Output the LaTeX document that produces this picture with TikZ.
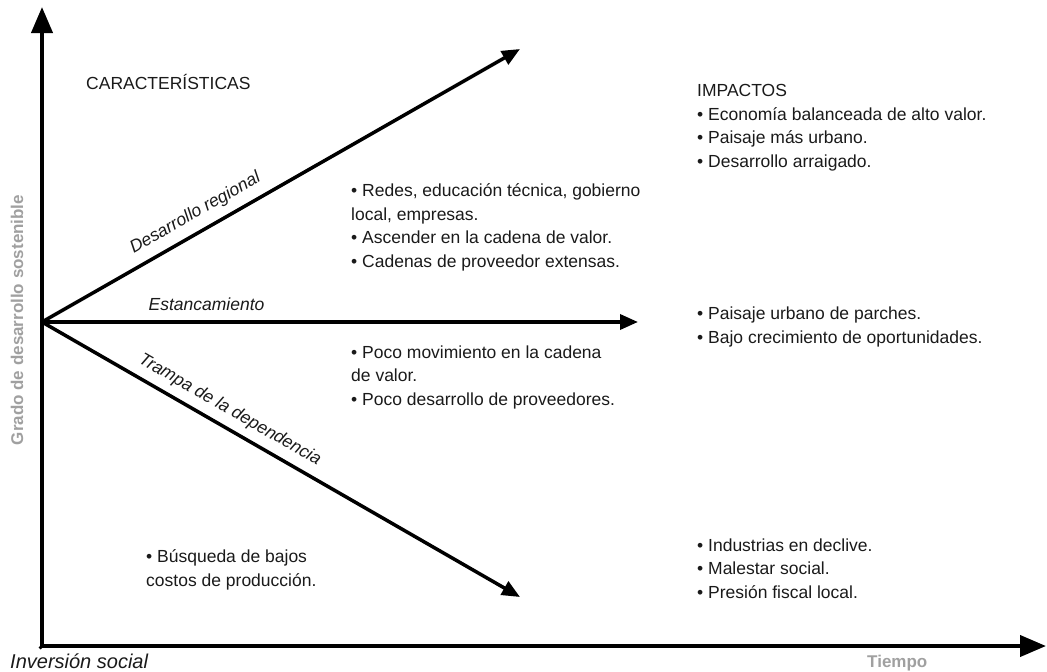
\documentclass[tikz,border=0pt]{standalone}
\usepackage{fontspec}
\setmainfont{Liberation Sans}
\usetikzlibrary{arrows.meta}
\definecolor{labelgray}{HTML}{A0A0A0}
\definecolor{ink}{HTML}{1A1A1A}
\tikzset{
  txt/.style={anchor=base west, inner sep=0pt, align=left, text=ink,
    font=\fontsize{17.5}{23.5}\selectfont},
  axis/.style={line width=4pt, -{Triangle[length=26pt,width=21pt]}},
  ray/.style={line width=3.5pt, -{Triangle[length=18pt,width=15pt]}},
  raylabel/.style={font=\itshape\fontsize{17.5}{20}\selectfont, text=ink},
  axlabel/.style={font=\bfseries\fontsize{17}{18}\selectfont, text=labelgray}
}
\begin{document}
\begin{tikzpicture}[x=1pt,y=-1pt]
  \useasboundingbox (0,0) rectangle (1047,672);
  % axes
  \coordinate (o) at (42,322);
  \coordinate (ytop) at (42,7);
  \coordinate (ybot) at (42,648);
  \coordinate (xend) at (1046,646);
  \draw[axis] (ybot) -- (ytop);
  \draw[line width=4pt] (40,646) -- (ybot);
  \draw[axis] (40,646) -- (xend);
  % paths
  \coordinate (up) at (520,49);
  \coordinate (flat) at (638,322);
  \coordinate (down) at (520,597);
  \draw[ray] (o) -- (up)
    node[raylabel, pos=0.34, sloped, above=5pt] (reg) {Desarrollo regional};
  \draw[ray] (o) -- (flat)
    node[raylabel, pos=0.276, above=6pt] (est) {Estancamiento};
  \draw[ray] (o) -- (down)
    node[raylabel, pos=0.375, sloped, above=4pt] (dep) {Trampa de la dependencia};
  % texts (base = last line)
  \node[txt] (car) at (86,89) {CARACTERÍSTICAS};
  \node[txt] (imp) at (697,167) {IMPACTOS\\
    • Economía balanceada de alto valor.\\
    • Paisaje más urbano.\\
    • Desarrollo arraigado.};
  \node[txt] (regc) at (351,267) {• Redes, educación técnica, gobierno\\
    local, empresas.\\
    • Ascender en la cadena de valor.\\
    • Cadenas de proveedor extensas.};
  \node[txt] (esti) at (697,343) {• Paisaje urbano de parches.\\
    • Bajo crecimiento de oportunidades.};
  \node[txt] (depc) at (351,405) {• Poco movimiento en la cadena\\
    de valor.\\
    • Poco desarrollo de proveedores.};
  \node[txt] (cost) at (146,586) {• Búsqueda de bajos\\
    costos de producción.};
  \node[txt] (depi) at (697,598) {• Industrias en declive.\\
    • Malestar social.\\
    • Presión fiscal local.};
  % axis labels
  \node[raylabel, font=\itshape\fontsize{20}{22}\selectfont, anchor=base west,
    inner sep=0pt] (inv) at (10,668) {Inversión social};
  \node[axlabel, anchor=base west, inner sep=0pt] (tie) at (867,667) {Tiempo};
  \node[axlabel, rotate=90] (gra) at (17,320) {Grado de desarrollo sostenible};
\end{tikzpicture}
\end{document}
